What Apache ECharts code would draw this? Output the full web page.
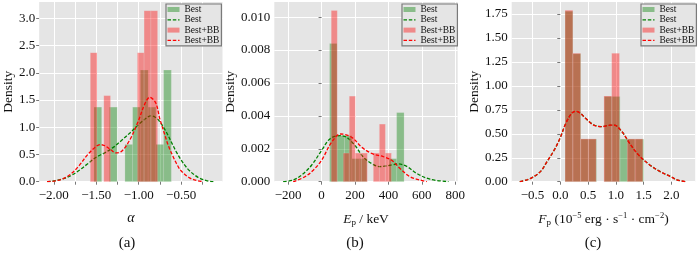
<!DOCTYPE html>
<html><head><meta charset="utf-8">
<script src="https://cdn.jsdelivr.net/npm/echarts/dist/echarts.min.js"></script>
<style>html,body{margin:0;padding:0;background:#fff}#c{width:700px;height:253px}</style>
</head><body><div id="c"></div><script>
// ---------- DATA ----------
// Panel (a): alpha
const aGreenEdges = [-1.527,-1.436,-1.345,-1.253,-1.162,-1.071,-0.980,-0.888,-0.797,-0.706,-0.615];
const aGreenHeights = [1.37,0,1.37,0,0.685,1.37,2.05,1.37,0.685,2.05];
const aRedEdges = [-1.570,-1.491,-1.411,-1.332,-1.253,-1.174,-1.094,-1.015,-0.936,-0.856,-0.777];
const aRedHeights = [2.37,0,1.58,0,0,0,0,2.37,3.14,3.14];
const aGreenKde = [[-2.08,0],[-2.0,0.015],[-1.9,0.05],[-1.8,0.11],[-1.7,0.21],[-1.6,0.33],[-1.5,0.45],[-1.4,0.53],[-1.3,0.63],[-1.2,0.76],[-1.1,0.9],[-1.0,1.05],[-0.9,1.18],[-0.86,1.21],[-0.8,1.18],[-0.75,1.1],[-0.7,0.98],[-0.65,0.84],[-0.6,0.68],[-0.55,0.53],[-0.5,0.4],[-0.45,0.29],[-0.4,0.2],[-0.3,0.08],[-0.2,0.02],[-0.12,0]];
const aRedKde = [[-2.08,0],[-2.0,0.01],[-1.9,0.05],[-1.8,0.14],[-1.7,0.3],[-1.6,0.5],[-1.5,0.65],[-1.45,0.68],[-1.4,0.66],[-1.33,0.59],[-1.27,0.53],[-1.2,0.56],[-1.1,0.78],[-1.0,1.13],[-0.93,1.42],[-0.87,1.55],[-0.8,1.45],[-0.75,1.15],[-0.7,0.9],[-0.65,0.66],[-0.6,0.48],[-0.55,0.32],[-0.5,0.2],[-0.4,0.07],[-0.3,0.015],[-0.24,0]];
const aXTicks = [-2.0,-1.75,-1.5,-1.25,-1.0,-0.75,-0.5,-0.25];
const aXLabels = [-2.0,-1.5,-1.0,-0.5];
const aYTicks = [0,0.5,1.0,1.5,2.0,2.5,3.0];

// Panel (b): Ep
const bGreenEdges = [48,92.6,137.2,181.8,226.4,271,315.6,360.2,404.8,449.4,494];
const bGreenHeights = [0.0084,0.0028,0.0028,0.0014,0.0014,0,0,0,0.0014,0.0042];
const bRedEdges = [58,94,130,166,202,238,274,310,346,382,418];
const bRedHeights = [0.0104,0,0.00174,0.0052,0.00174,0.00174,0,0.00174,0.0035,0.00174];
const bGreenKde = [[-230,0],[-170,0.0001],[-120,0.0004],[-60,0.001],[0,0.0019],[50,0.0026],[110,0.0028],[150,0.0027],[200,0.0022],[250,0.0015],[300,0.0011],[350,0.00092],[410,0.001],[460,0.00108],[510,0.00093],[570,0.0005],[650,0.00015],[760,0]];
const bRedKde = [[-170,0],[-100,0.0003],[-50,0.0007],[0,0.0013],[60,0.0024],[115,0.0029],[180,0.0027],[240,0.0021],[300,0.00172],[370,0.00152],[420,0.0013],[470,0.0008],[530,0.0003],[590,0.0001],[630,0]];
const bXTicks = [-200,0,200,400,600,800];
const bYTicks = [0,0.002,0.004,0.006,0.008,0.010];

// Panel (c): Fp
const cGreenEdges = [0.086,0.227,0.369,0.510,0.652,0.793,0.935,1.077,1.218,1.360,1.501];
const cGreenHeights = [1.78,1.335,0.445,0.445,0,0.89,0.89,0.445,0.445,0.445];
const cRedEdges = [0.086,0.226,0.366,0.506,0.646,0.786,0.926,1.066,1.206,1.346,1.486];
const cRedHeights = [1.79,1.34,0.447,0.447,0,0.894,1.34,0,0.447,0.447];
const cGreenKde = [[-0.73,0],[-0.6,0.02],[-0.5,0.045],[-0.35,0.11],[-0.25,0.2],[-0.1,0.34],[0.0,0.46],[0.1,0.61],[0.2,0.71],[0.27,0.735],[0.35,0.72],[0.45,0.665],[0.6,0.595],[0.75,0.575],[0.9,0.59],[0.97,0.59],[1.1,0.53],[1.25,0.4],[1.4,0.285],[1.6,0.18],[1.8,0.105],[2.0,0.05],[2.1,0.02],[2.25,0]];
const cRedKde = [[-0.73,0],[-0.6,0.02],[-0.5,0.045],[-0.35,0.11],[-0.25,0.2],[-0.1,0.34],[0.0,0.46],[0.1,0.61],[0.2,0.71],[0.27,0.735],[0.35,0.72],[0.45,0.665],[0.6,0.59],[0.75,0.575],[0.9,0.59],[0.97,0.59],[1.1,0.53],[1.25,0.4],[1.4,0.285],[1.6,0.18],[1.8,0.105],[2.0,0.05],[2.1,0.02],[2.25,0]];
const cXTicks = [-0.5,0,0.5,1.0,1.5,2.0];
const cYTicks = [0,0.25,0.5,0.75,1.0,1.25,1.5,1.75];

// ---------- STYLE / BUILD ----------
const SERIF = 'Liberation Serif, DejaVu Serif, serif';
const GREEN_BAR = 'rgba(0,128,0,0.4)', RED_BAR = 'rgba(255,0,0,0.4)';
const GREEN = '#008000', RED = '#ff0000';
const DASH_ICON = 'path://M0,0h3.5v1.3h-3.5zM5.3,0h3.5v1.3h-3.5zM10.6,0h1.4v1.3h-1.4z';
const minus = s => s.replace('-', '\u2212');

function hist(name, gi, edges, heights, color, z) {
  const data = heights.map((h, i) => [edges[i], edges[i + 1], h]);
  return {
    type: 'custom', name, xAxisIndex: gi, yAxisIndex: gi, z, silent: true,
    itemStyle: { color },
    encode: { x: [0, 1], y: 2 },
    data,
    renderItem(params, api) {
      const h = api.value(2);
      if (!h) return null;
      const p0 = api.coord([api.value(0), 0]);
      const p1 = api.coord([api.value(1), h]);
      return { type: 'rect', shape: { x: p0[0], y: p1[1], width: p1[0] - p0[0], height: p0[1] - p1[1] },
        style: { fill: color, stroke: 'rgba(238,238,238,0.35)', lineWidth: 0.5 } };
    }
  };
}
function kde(name, gi, pts, color, z) {
  return { type: 'line', name, xAxisIndex: gi, yAxisIndex: gi, z, silent: true,
    data: pts, symbol: 'none', smooth: 0.35, clip: true,
    itemStyle: { color }, lineStyle: { color, width: 1.3, type: [3.5, 1.8] } };
}
const tickStyle = { show: true, length: 3, lineStyle: { color: '#555', width: 0.8 } };
const split = { show: true, lineStyle: { color: '#ffffff', width: 1 } };
function xAxis(gi, min, max, ticks, labels, fmt, name, nameStyle, gap) {
  return { gridIndex: gi, type: 'value', min, max,
    axisLine: { show: false }, axisTick: Object.assign({ customValues: ticks }, tickStyle),
    axisLabel: { customValues: labels, formatter: v => minus(fmt(v)), fontFamily: SERIF, fontSize: 13, color: '#111', margin: 7 },
    splitLine: split, name, nameLocation: 'middle', nameGap: gap, nameTextStyle: nameStyle };
}
function yAxis(gi, min, max, ticks, fmt, gap) {
  return { gridIndex: gi, type: 'value', min, max,
    axisLine: { show: false }, axisTick: Object.assign({ customValues: ticks }, tickStyle),
    axisLabel: { customValues: ticks, formatter: v => fmt(v), fontFamily: SERIF, fontSize: 13, color: '#111', margin: 4 },
    splitLine: split, name: 'Density', nameLocation: 'middle', nameRotate: 90, nameGap: gap,
    nameTextStyle: { fontFamily: SERIF, fontSize: 13.5, color: '#111' } };
}
function legend(left) {
  return { left, top: 4, orient: 'vertical', itemWidth: 12, itemHeight: 5, itemGap: 0.3,
    padding: [0.5, 2, 0.5, 1.5], backgroundColor: '#E5E5E5', borderColor: '#7a7a7a', borderWidth: 1.2,
    selectedMode: false,
    textStyle: { fontFamily: SERIF, fontSize: 9.5, color: '#111', lineHeight: 10 },
    data: [{ name: 'Best', icon: 'rect' }, { name: 'Best ', icon: DASH_ICON },
           { name: 'Best+BB', icon: 'rect' }, { name: 'Best+BB ', icon: DASH_ICON }],
    formatter: n => n.trim() };
}
const base = { fontFamily: SERIF, fontSize: 13.5, color: '#111' };
const rich = {
  i: Object.assign({}, base, { fontStyle: 'italic' }),
  n: Object.assign({}, base),
  sub: Object.assign({}, base, { fontSize: 9, padding: [6, 0, 0, 0] }),
  sup: Object.assign({}, base, { fontSize: 8.5, padding: [0, 0, 7, 0] })
};

const option = {
  animation: false,
  grid: [
    { left: 35, top: 2, width: 187.5, height: 179.7, show: true, backgroundColor: '#E5E5E5', borderWidth: 0 },
    { left: 274.3, top: 2, width: 183.4, height: 179.7, show: true, backgroundColor: '#E5E5E5', borderWidth: 0 },
    { left: 511.7, top: 2, width: 183.5, height: 179.7, show: true, backgroundColor: '#E5E5E5', borderWidth: 0 }
  ],
  xAxis: [
    xAxis(0, -2.173, -0.012, aXTicks, aXLabels, v => v.toFixed(2), 'α',
      { fontFamily: SERIF, fontSize: 14, fontStyle: 'italic', color: '#111' }, 30),
    xAxis(1, -283, 815, bXTicks, bXTicks, v => String(v), '{i|E}{sub|p}{n| / keV}', { rich }, 30),
    xAxis(2, -0.875, 2.43, cXTicks, cXTicks, v => v.toFixed(1),
      '{i|F}{sub|p}{n| (10}{sup|−5}{n| erg · s}{sup|−1}{n| · cm}{sup|−2}{n|)}', { rich }, 30)
  ],
  yAxis: [
    yAxis(0, 0, 3.3, aYTicks, v => v.toFixed(1), 22),
    yAxis(1, 0, 0.01092, bYTicks, v => v.toFixed(3), 36),
    yAxis(2, 0, 1.876, cYTicks, v => v.toFixed(2), 30)
  ],
  legend: [legend(166), legend(402), legend(641)],
  title: [
    { text: '(a)', left: 127, top: 236, textAlign: 'center', padding: 0, textStyle: { fontFamily: SERIF, fontSize: 15, fontWeight: 'normal', color: '#111' } },
    { text: '(b)', left: 355, top: 236, textAlign: 'center', padding: 0, textStyle: { fontFamily: SERIF, fontSize: 15, fontWeight: 'normal', color: '#111' } },
    { text: '(c)', left: 593, top: 236, textAlign: 'center', padding: 0, textStyle: { fontFamily: SERIF, fontSize: 15, fontWeight: 'normal', color: '#111' } }
  ],
  series: [
    hist('Best', 0, aGreenEdges, aGreenHeights, GREEN_BAR, 2),
    kde('Best ', 0, aGreenKde, GREEN, 3),
    hist('Best+BB', 0, aRedEdges, aRedHeights, RED_BAR, 4),
    kde('Best+BB ', 0, aRedKde, RED, 5),
    hist('Best', 1, bGreenEdges, bGreenHeights, GREEN_BAR, 2),
    kde('Best ', 1, bGreenKde, GREEN, 3),
    hist('Best+BB', 1, bRedEdges, bRedHeights, RED_BAR, 4),
    kde('Best+BB ', 1, bRedKde, RED, 5),
    hist('Best', 2, cGreenEdges, cGreenHeights, GREEN_BAR, 2),
    kde('Best ', 2, cGreenKde, GREEN, 3),
    hist('Best+BB', 2, cRedEdges, cRedHeights, RED_BAR, 4),
    kde('Best+BB ', 2, cRedKde, RED, 5)
  ]
};
const chart = echarts.init(document.getElementById('c'), null, { renderer: 'canvas' });
chart.setOption(option);
</script></body></html>
